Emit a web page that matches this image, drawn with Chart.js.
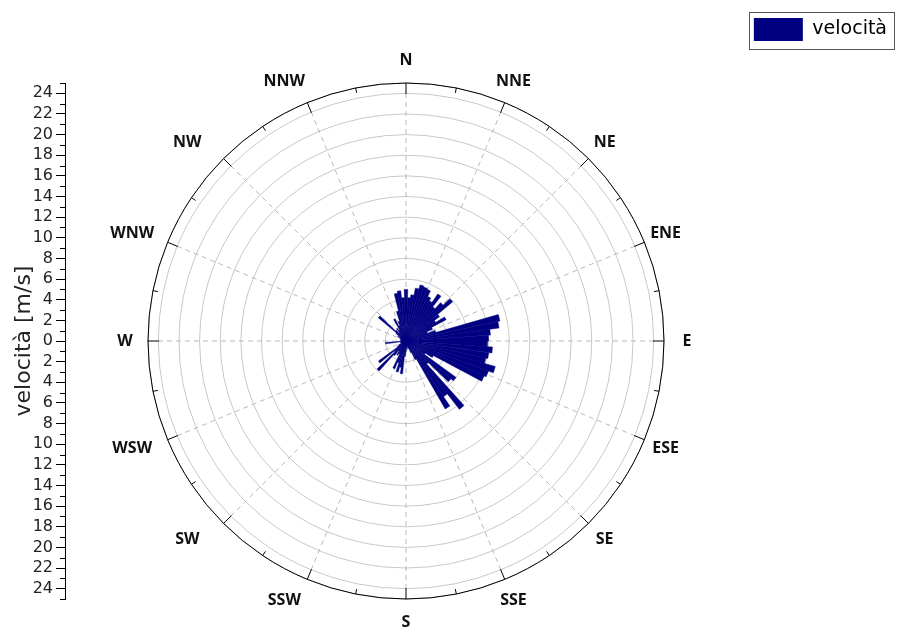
<!DOCTYPE html>
<html>
<head>
<meta charset="utf-8">
<script src="https://cdn.jsdelivr.net/npm/chart.js@4.4.1/dist/chart.umd.min.js"></script>
<style>
  body { margin: 0; background: #fff; }
  canvas { display: block; }
</style>
</head>
<body>
<canvas id="windRose" width="897" height="631"></canvas>
<script>
// direction bins, 4 degrees wide, centred on 0, 4, 8 ... 356 (compass degrees)
var directions = [
    0, 4, 8, 12, 16, 20, 24, 28, 32, 36, 40, 44, 48, 52, 56, 60, 64, 68,
    72, 76, 80, 84, 88, 92, 96, 100, 104, 108, 112, 116, 120, 124, 128, 132,
    136, 140, 144, 148, 152, 156, 160, 164, 168, 172, 176, 180, 184, 188,
    192, 196, 200, 204, 208, 212, 216, 220, 224, 228, 232, 236, 240, 244,
    248, 252, 256, 260, 264, 268, 272, 276, 280, 284, 288, 292, 296, 300,
    304, 308, 312, 316, 320, 324, 328, 332, 336, 340, 344, 348, 352, 356
];
// speed in m/s for each bin
var speeds = [
    5.0, 4.2, 4.5, 5.2, 5.6, 5.5, 5.4, 4.8, 4.5, 5.5, 4.2, 5.0, 5.9, 4.0, 3.4, 4.4, 2.8, 2.2,
    3.0, 9.3, 9.1, 8.2, 8.0, 7.9, 8.4, 8.1, 7.9, 9.0, 8.5, 8.3, 3.0, 2.2, 6.0, 5.7,
    3.0, 8.4, 6.5, 7.6, 2.0, 1.2, 0.8, 0.6, 0.5, 0.8, 0.6, 1.0, 1.5, 3.2,
    2.6, 3.1, 2.2, 2.9, 1.4, 1.6, 1.2, 1.8, 3.9, 1.5, 3.3, 1.0, 0.8, 0.5,
    0.4, 0.6, 0.4, 0.5, 2.0, 0.6, 0.4, 0.5, 0.3, 0.6, 0.5, 0.4, 0.7, 0.9,
    0.6, 1.2, 3.5, 1.4, 1.0, 1.5, 1.2, 2.4, 1.6, 2.0, 3.0, 4.7, 4.9, 4.2
];
var compassPoints = ['N', 'NNE', 'NE', 'ENE', 'E', 'ESE', 'SE', 'SSE',
                     'S', 'SSW', 'SW', 'WSW', 'W', 'WNW', 'NW', 'NNW'];
var seriesName = 'velocità';
var axisTitle = 'velocità [m/s]';
var barColor = '#000080';
var textFont = '"DejaVu Sans"';

var roseDecor = {
    id: 'roseDecor',
    beforeDatasetsDraw: function(chart) {
        var r = chart.scales.r;
        var ctx = chart.ctx;
        var rIn = r.getDistanceFromCenterForValue(24);
        ctx.save();
        ctx.strokeStyle = '#b9b9b9';
        ctx.lineWidth = 1;
        ctx.setLineDash([5, 4]);
        compassPoints.forEach(function(name, k) {
            var a = (k * 22.5 - 90) * Math.PI / 180;
            ctx.beginPath();
            ctx.moveTo(r.xCenter, r.yCenter);
            ctx.lineTo(r.xCenter + rIn * Math.cos(a), r.yCenter + rIn * Math.sin(a));
            ctx.stroke();
        });
        ctx.restore();
    },
    afterDraw: function(chart) {
        var r = chart.scales.r;
        var y = chart.scales.y;
        var ctx = chart.ctx;
        var R = r.drawingArea;
        ctx.save();
        // outer circle
        ctx.strokeStyle = '#000';
        ctx.lineWidth = 1;
        ctx.beginPath();
        ctx.arc(r.xCenter, r.yCenter, R, 0, Math.PI * 2);
        ctx.stroke();
        // ticks on the outer circle, major every 22.5, minor in between
        for (var k = 0; k < 32; k++) {
            var a = (k * 11.25 - 90) * Math.PI / 180;
            var len = k % 2 === 0 ? 11 : 5;
            ctx.beginPath();
            ctx.moveTo(r.xCenter + R * Math.cos(a), r.yCenter + R * Math.sin(a));
            ctx.lineTo(r.xCenter + (R - len) * Math.cos(a), r.yCenter + (R - len) * Math.sin(a));
            ctx.stroke();
        }
        // compass labels (left-hand ones sit a little further out)
        ctx.fillStyle = '#111';
        ctx.font = 'bold 16px "Open Sans"';
        ctx.textAlign = 'center';
        ctx.textBaseline = 'middle';
        compassPoints.forEach(function(name, k) {
            var deg = k * 22.5;
            var a = (deg - 90) * Math.PI / 180;
            var s = Math.sin(deg * Math.PI / 180);
            var shift = s < -0.1 ? -20 * Math.abs(Math.sin(2 * deg * Math.PI / 180)) : 0;
            ctx.fillText(name, r.xCenter + (R + 23) * Math.cos(a) + shift, r.yCenter + (R + 23) * Math.sin(a));
        });
        // minor ticks on the left axis
        ctx.beginPath();
        for (var v = -25; v <= 25; v += 2) {
            var py = Math.round(y.getPixelForValue(v)) + 0.5;
            ctx.moveTo(y.right - 5, py);
            ctx.lineTo(y.right, py);
        }
        ctx.stroke();
        // frame around the legend
        var hb = chart.legend.legendHitBoxes[0];
        ctx.strokeStyle = '#555';
        ctx.strokeRect(Math.round(hb.left) - 4.5, 12.5, 145, 37);
        ctx.restore();
    }
};

var ctx = document.getElementById('windRose').getContext('2d');
var myChart = new Chart(ctx, {
    type: 'polarArea',
    data: {
        labels: directions,
        datasets: [{
            label: seriesName,
            data: speeds,
            backgroundColor: barColor,
            borderColor: barColor,
            borderWidth: 0.5
        }]
    },
    options: {
        responsive: false,
        animation: false,
        layout: {
            padding: { top: 13, right: 0, bottom: 32, left: 0 }
        },
        scales: {
            r: {
                min: 0,
                max: 25,
                bounds: 'data',
                startAngle: -2,
                angleLines: { display: false },
                pointLabels: { display: false },
                grid: { circular: true, color: '#c8c8c8', lineWidth: 1 },
                ticks: { display: false, stepSize: 2, includeBounds: false }
            },
            y: {
                type: 'linear',
                position: 'left',
                min: -25,
                max: 25,
                bounds: 'data',
                afterFit: function(scale) { scale.width = 65; },
                border: { display: true, color: '#000', width: 1 },
                grid: {
                    drawOnChartArea: false,
                    tickLength: 9,
                    color: '#000',
                    tickColor: function(c) { return c.tick.value % 2 === 0 ? '#000' : 'rgba(0,0,0,0)'; }
                },
                ticks: {
                    stepSize: 1,
                    autoSkip: false,
                    padding: 3,
                    color: '#222',
                    font: { family: textFont, size: 16 },
                    callback: function(value) { return value % 2 === 0 ? Math.abs(value) : ''; }
                },
                title: {
                    display: true,
                    text: axisTitle,
                    color: '#222',
                    font: { family: textFont, size: 22 },
                    padding: { top: 11, bottom: 0 }
                }
            }
        },
        plugins: {
            title: {
                display: true,
                text: '',
                font: { size: 12 },
                padding: { top: 0, bottom: 55.6 }
            },
            legend: {
                position: 'right',
                align: 'start',
                onClick: function() {},
                labels: {
                    boxWidth: 49,
                    boxHeight: 23,
                    padding: 5,
                    color: '#222',
                    font: { family: textFont, size: 19 },
                    generateLabels: function() {
                        return [{
                            text: seriesName,
                            fillStyle: barColor,
                            strokeStyle: barColor,
                            lineWidth: 0,
                            hidden: false,
                            index: 0,
                            datasetIndex: 0
                        }];
                    }
                }
            },
            tooltip: { enabled: false }
        }
    },
    plugins: [roseDecor]
});
</script>
</body>
</html>
